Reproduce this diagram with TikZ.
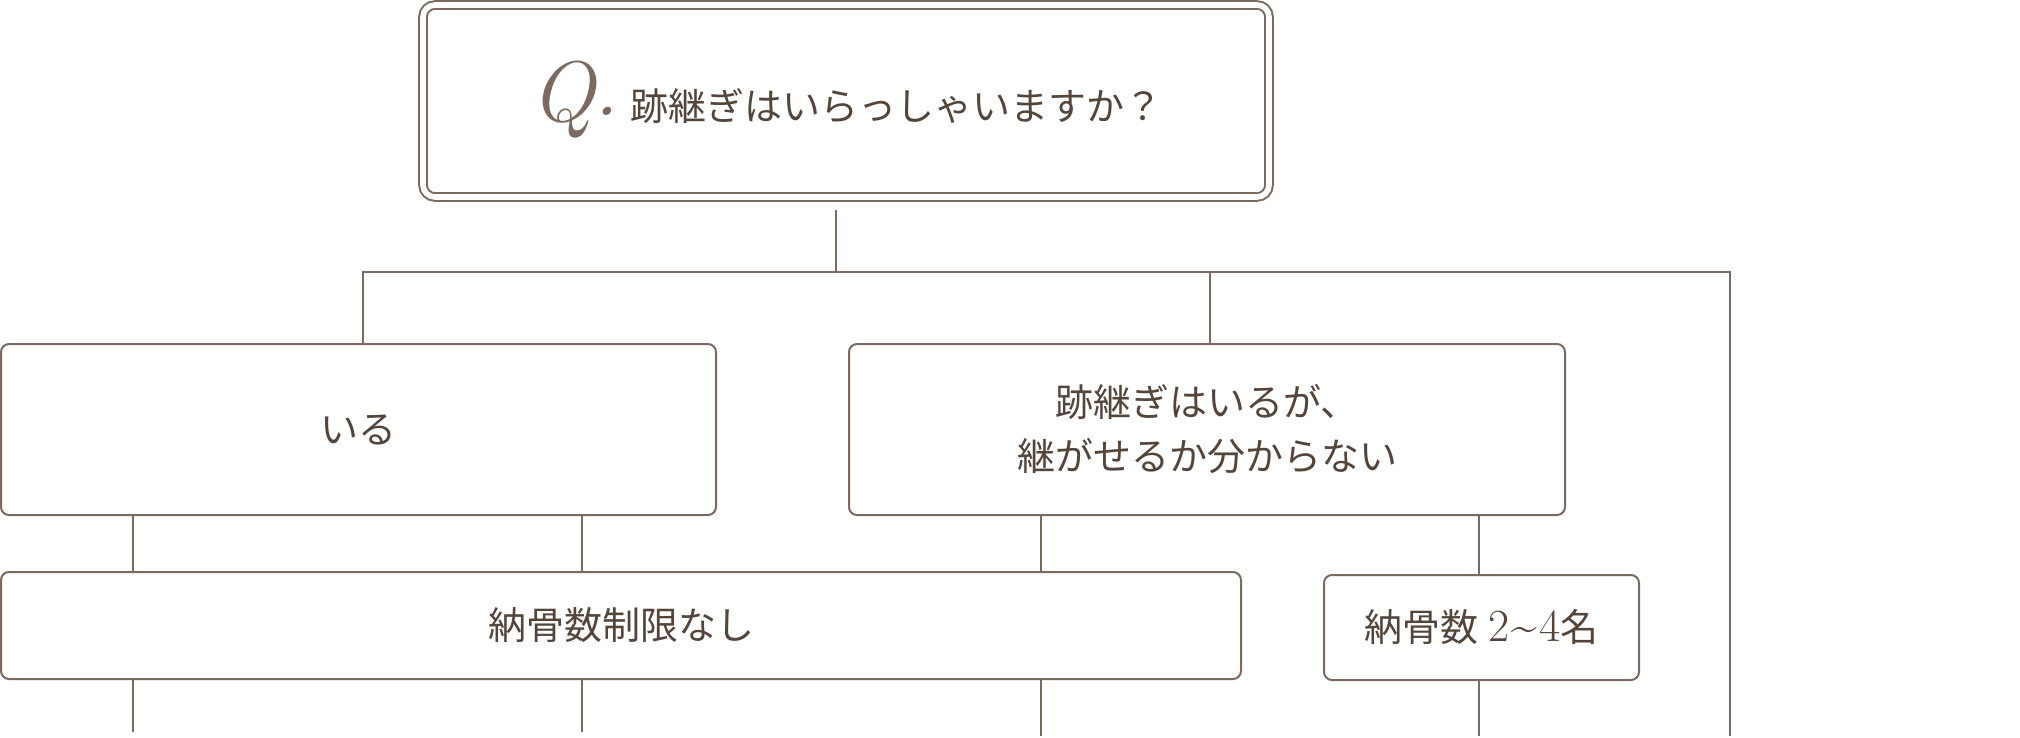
\documentclass[tikz,border=0pt]{standalone}
\usepackage{fontspec}
\newfontfamily\jpfont{Noto Sans CJK JP}
\usetikzlibrary{positioning, calc}
\definecolor{linebrown}{HTML}{7B6A60}
\definecolor{textbrown}{HTML}{54453B}
\tikzset{
  qbox/.style={draw=linebrown, line width=1pt, double=white, double distance=2.8pt,
               rounded corners=6pt, inner sep=0pt},
  ans/.style={draw=linebrown, line width=1pt, rounded corners=4pt, text=textbrown,
              align=center, inner sep=0pt, font=\jpfont\fontsize{19}{27}\selectfont},
  qlabel/.style={text=textbrown, inner sep=0pt, font=\jpfont\fontsize{19}{27}\selectfont},
  qmark/.style={text=linebrown, inner sep=0pt, font=\fontsize{43}{43}\selectfont\itshape},
  link/.style={draw=linebrown, line width=1pt},
}

\begin{document}
\begin{tikzpicture}[x=0.5pt, y=-0.5pt]
  \useasboundingbox (0,0) rectangle (2020,738);
  % question
  \node (question) [qbox, minimum width=423pt, minimum height=96pt] at (846,101) {};
  \node (qtext) [qlabel] at (896,106) {跡継ぎはいらっしゃいますか？};
  \node (qmark) [qmark, left=5pt of qtext, yshift=3pt] {Q\kern-1pt\raisebox{3pt}{.}};
  % answers
  \node (iru)    [ans, minimum width=357.5pt, minimum height=85.5pt] at (358.5,429.5) {いる};
  \node (unsure) [ans, minimum width=358pt, minimum height=85.5pt] at (1207,429.5)
        {跡継ぎはいるが、\\継がせるか分からない};
  % capacity
  \node (nolimit) [ans, minimum width=620pt, minimum height=53.5pt] at (621,625.5) {納骨数制限なし};
  \node (limited) [ans, minimum width=157.5pt, minimum height=52.5pt] at (1481.5,627.5)
        {納骨数\hspace{5pt}{\rmfamily\fontsize{23}{27}\selectfont 2\kern1pt\textasciitilde\kern1pt 4}名};
  % branch points and open ends
  \coordinate (fork) at (836,272);
  \coordinate (jL) at (363,272);
  \coordinate (jM) at (1210,272);
  \coordinate (rtop) at (1730,272);
  \coordinate (rend) at (1730,736);
  \coordinate (colA) at (133,732);
  \coordinate (colB) at (582,732);
  \coordinate (colC) at (1041,736);
  \coordinate (colD) at (1479,736);
  \draw[link, shorten <=6pt] (question.south -| fork) -- (fork);
  \draw[link] (iru.north -| jL) -- (jL) -- (rtop) -- (rend);
  \draw[link] (unsure.north -| jM) -- (jM);
  \draw[link] (iru.south -| colA) -- (nolimit.north -| colA);
  \draw[link] (iru.south -| colB) -- (nolimit.north -| colB);
  \draw[link] (unsure.south -| colC) -- (nolimit.north -| colC);
  \draw[link] (unsure.south -| colD) -- (limited.north -| colD);
  \draw[link] (nolimit.south -| colA) -- (colA);
  \draw[link] (nolimit.south -| colB) -- (colB);
  \draw[link] (nolimit.south -| colC) -- (colC);
  \draw[link] (limited.south -| colD) -- (colD);
\end{tikzpicture}
\end{document}
